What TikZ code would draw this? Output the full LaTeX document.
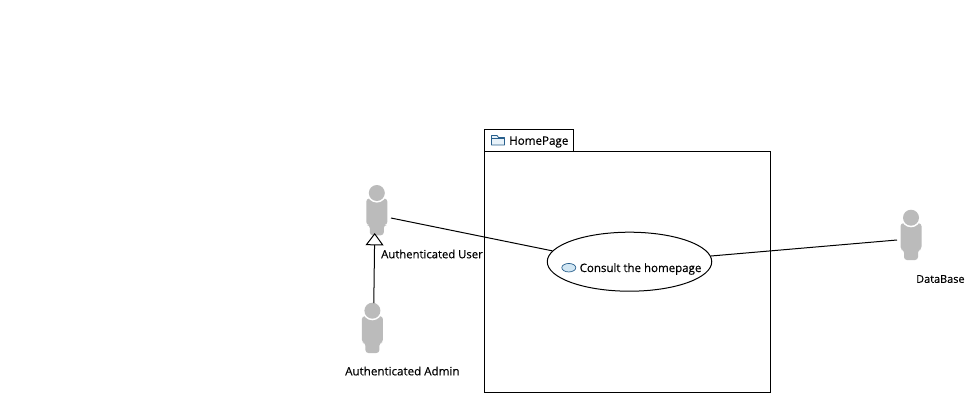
\documentclass[tikz,border=0pt]{standalone}
\usepackage{fontspec}
\setmainfont{Open Sans}[FakeBold=0.35]
\usetikzlibrary{shapes.geometric,arrows.meta}
\definecolor{actorgrey}{RGB}{187,187,187}
\definecolor{iconblue}{RGB}{209,230,243}
\definecolor{iconline}{RGB}{40,95,140}
\newcommand{\actorfig}[3]{%
  % #1 = node name, #2 = head centre x, #3 = head centre y
  \fill[actorgrey,rounded corners=3pt]
    (#2-10.5,#3+5.5) -- (#2+10.5,#3+5.5) -- (#2+10.5,#3+32) -- (#2+7,#3+32)
    -- (#2+7,#3+42.3) -- (#2-7,#3+42.3) -- (#2-7,#3+32) -- (#2-10.5,#3+32) -- cycle;
  \fill[white] (#2,#3) circle (9.6);
  \fill[actorgrey] (#2,#3) circle (8);
  \node[actorbox] (#1) at (#2,#3+16.75) {};
}
\tikzset{
  actorbox/.style={minimum width=21pt,minimum height=50pt,inner sep=0pt},
  lbl/.style={font=\fontsize{11.3}{13}\selectfont,inner sep=0pt,text=black},
  conn/.style={draw=black,line width=1pt},
  frameline/.style={draw=black,line width=1pt},
}
\begin{document}
\begin{tikzpicture}[x=1pt,y=-1pt]
\useasboundingbox (0,0) rectangle (975,402);
\fill[white] (0,0) rectangle (975,402);
% package
\node[frameline,minimum width=89pt,minimum height=22pt,inner sep=0pt,anchor=north west] (tab) at (484,129) {};
\node[frameline,minimum width=286pt,minimum height=241pt,inner sep=0pt,anchor=north west] (pkg) at (484,151) {};
\draw[iconline,fill=iconblue!50,line width=.8pt,line join=round] (491.5,145) -- (491.5,135.5) -- (497,135.5) -- (498.5,137.5) -- (504.5,137.5) -- (504.5,145) -- cycle;
\draw[iconline,line width=.6pt] (491.5,138) -- (504.5,138);
\node[lbl,anchor=west,font=\fontsize{11.6}{13}\selectfont] (pkglabel) at (509,142) {HomePage};
% actors
\actorfig{user}{376.8}{193}
\actorfig{admin}{372.4}{310.7}
\actorfig{db}{911}{217.7}
\coordinate (userfoot) at (374.7,233);
\coordinate (userside) at (391,218);
\coordinate (admintop) at (373.8,303);
\coordinate (dbside) at (897,240);
\node[lbl,anchor=west] (userlabel) at (381,254) {Authenticated User};
\node[lbl,anchor=west,font=\fontsize{11.6}{13}\selectfont] (adminlabel) at (345,371) {Authenticated Admin};
\node[lbl,anchor=west,font=\fontsize{10.9}{13}\selectfont] (dblabel) at (916,279) {DataBase};
% use case
\node[ellipse,draw=black,line width=1pt,fill=white,minimum width=164.5pt,minimum height=59pt,inner sep=0pt] (uc) at (629.5,261.7) {};
\node[ellipse,draw=iconline,fill=iconblue,line width=.7pt,minimum width=14pt,minimum height=8.5pt,inner sep=0pt] (ucicon) at (568.8,267.7) {};
\node[lbl,anchor=west,font=\fontsize{11.5}{13}\selectfont] (uclabel) at (579.5,269) {Consult the homepage};
% connectors
\draw[conn] (userside) -- (uc.172.9);
\draw[conn] (uc.4.7) -- (dbside);
\draw[conn,-{Triangle[open,fill=white,length=12.3pt,width=18pt,line width=1pt]}] (admintop) -- (userfoot);
\end{tikzpicture}
\end{document}
